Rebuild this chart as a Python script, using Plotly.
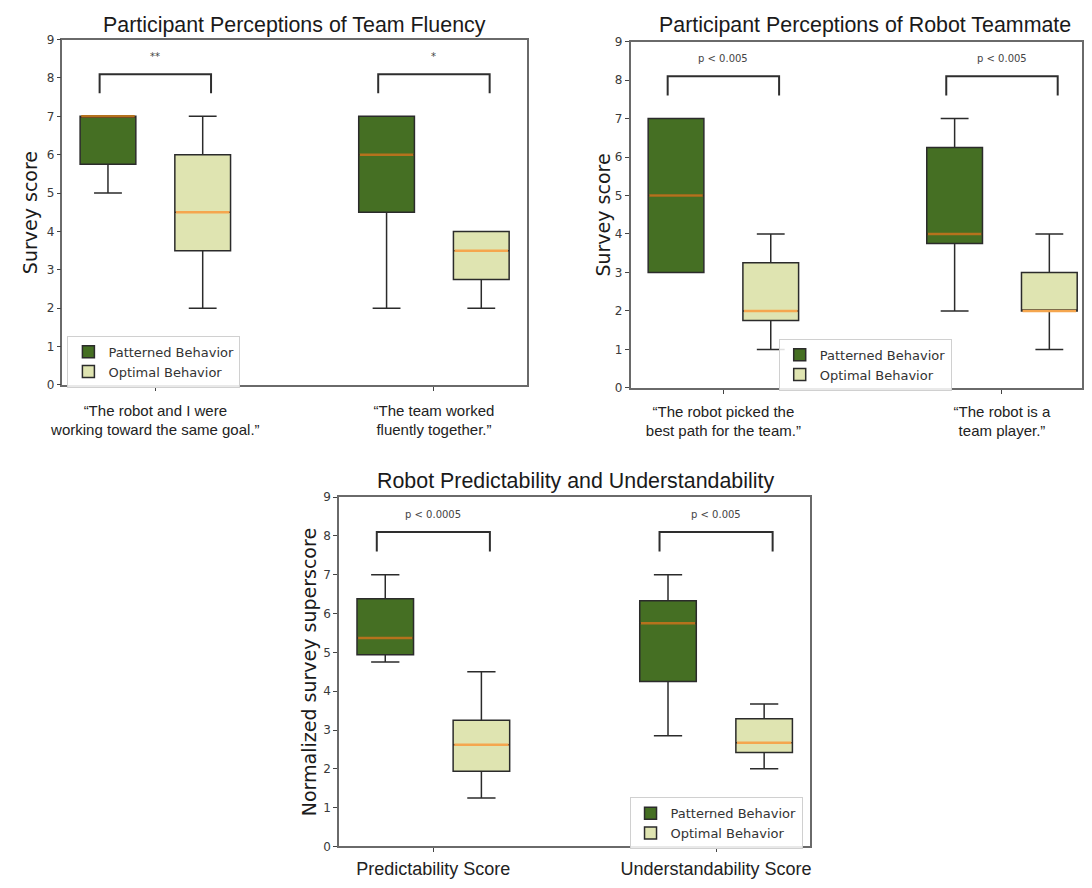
import plotly.graph_objects as go

# ---------------- data ----------------
# Panel 1: Participant Perceptions of Team Fluency
fluency_labels = ["“The robot and I were<br>working toward the same goal.”",
                  "“The team worked<br>fluently together.”"]
fluency_pat_low = [5.0, 2.0]
fluency_pat_q1 = [5.75, 4.5]
fluency_pat_median = [7.0, 6.0]
fluency_pat_q3 = [7.0, 7.0]
fluency_pat_high = [7.0, 7.0]
fluency_opt_low = [2.0, 2.0]
fluency_opt_q1 = [3.5, 2.75]
fluency_opt_median = [4.5, 3.5]
fluency_opt_q3 = [6.0, 4.0]
fluency_opt_high = [7.0, 4.0]
fluency_sig = ["**", "*"]

# Panel 2: Participant Perceptions of Robot Teammate
teammate_labels = ["“The robot picked the<br>best path for the team.”",
                   "“The robot is a<br>team player.”"]
teammate_pat_low = [3.0, 2.0]
teammate_pat_q1 = [3.0, 3.75]
teammate_pat_median = [5.0, 4.0]
teammate_pat_q3 = [7.0, 6.25]
teammate_pat_high = [7.0, 7.0]
teammate_opt_low = [1.0, 1.0]
teammate_opt_q1 = [1.75, 2.0]
teammate_opt_median = [2.0, 2.0]
teammate_opt_q3 = [3.25, 3.0]
teammate_opt_high = [4.0, 4.0]
teammate_sig = ["p < 0.005", "p < 0.005"]

# Panel 3: Robot Predictability and Understandability
score_labels = ["Predictability Score", "Understandability Score"]
score_pat_low = [4.75, 2.85]
score_pat_q1 = [4.94, 4.25]
score_pat_median = [5.37, 5.75]
score_pat_q3 = [6.38, 6.33]
score_pat_high = [7.0, 7.0]
score_opt_low = [1.25, 2.0]
score_opt_q1 = [1.94, 2.42]
score_opt_median = [2.62, 2.67]
score_opt_q3 = [3.25, 3.29]
score_opt_high = [4.5, 3.67]
score_sig = ["p < 0.0005", "p < 0.005"]

y_ticks = [0, 1, 2, 3, 4, 5, 6, 7, 8, 9]
series_names = ["Patterned Behavior", "Optimal Behavior"]

# ---------------- style ----------------
PAGE_OFF = 8                      # default body margin of the page
W, H = 1092 - 2 * PAGE_OFF, 888 - 2 * PAGE_OFF
GREEN = "#456f23"
LIGHT = "#dfe4b1"
EDGE = "#2b2b2b"
MED_COLORS = ["#b5721d", "#f5a64e"]
FILLS = [GREEN, LIGHT]
OFFSET = 0.17
BOX_W = 0.2
BR_HALF = 0.2
BR_LOW, BR_TOP, SIG_Y = 7.6, 8.1, 8.55
SPINE = "#6a6a6a"
ARIAL = "Liberation Sans, Arial, sans-serif"
DEJAVU = "DejaVu Sans, sans-serif"


def fx(px):
    return min(1.0, max(0.0, (px - PAGE_OFF) / W))


def fy(py):
    return min(1.0, max(0.0, 1 - (py - PAGE_OFF) / H))


panels = [
    dict(s="", title="Participant Perceptions of Team Fluency", ylabel="Survey score",
         labels=fluency_labels,
         stats=[(fluency_pat_low, fluency_pat_q1, fluency_pat_median, fluency_pat_q3, fluency_pat_high),
                (fluency_opt_low, fluency_opt_q1, fluency_opt_median, fluency_opt_q3, fluency_opt_high)],
         sig=fluency_sig,
         px=(52, 522), py=(33, 384), title_y=18, ylab_x=19, title_x=287,
         tickfont=dict(family=ARIAL, size=15, color="#222"), standoff=7,
         legend=dict(x=57, y=334)),
    dict(s="2", title="Participant Perceptions of Robot Teammate", ylabel="Survey score",
         labels=teammate_labels,
         stats=[(teammate_pat_low, teammate_pat_q1, teammate_pat_median, teammate_pat_q3, teammate_pat_high),
                (teammate_opt_low, teammate_opt_q1, teammate_opt_median, teammate_opt_q3, teammate_opt_high)],
         sig=teammate_sig,
         px=(627, 1097), py=(35, 387), title_y=18, ylab_x=599, title_x=864,
         tickfont=dict(family=ARIAL, size=15, color="#222"), standoff=5,
         legend=dict(x=777, y=337)),
    dict(s="3", title="Robot Predictability and Understandability", ylabel="Normalized survey superscore",
         labels=score_labels,
         stats=[(score_pat_low, score_pat_q1, score_pat_median, score_pat_q3, score_pat_high),
                (score_opt_low, score_opt_q1, score_opt_median, score_opt_q3, score_opt_high)],
         sig=score_sig,
         px=(332, 809), py=(498, 853), title_y=482, ylab_x=301, title_x=571,
         tickfont=dict(family=ARIAL, size=18, color="#222"), standoff=1,
         legend=dict(x=626, y=803)),
]

fig = go.Figure()
annotations = []
layout = dict(width=W, height=H, margin=dict(l=0, r=0, t=0, b=0),
              paper_bgcolor="white", plot_bgcolor="white", boxmode="overlay")

for p in panels:
    s = p["s"]
    xa, ya = "x" + s, "y" + s
    leg = "legend" + s
    pos = list(range(len(p["labels"])))
    for k, (low, q1, med, q3, high) in enumerate(p["stats"]):
        sign = -1 if k == 0 else 1
        xs = [i + sign * OFFSET for i in pos]
        fig.add_trace(go.Box(
            x=xs, lowerfence=low, q1=q1, median=med, q3=q3, upperfence=high,
            width=BOX_W, whiskerwidth=0.5, boxpoints=False,
            fillcolor=FILLS[k], line=dict(color=EDGE, width=1.5),
            name=series_names[k], legend=leg, xaxis=xa, yaxis=ya,
            hoverinfo="skip"))
        mx, my = [], []
        for xv, m in zip(xs, med):
            mx += [xv - BOX_W / 2 + 0.004, xv + BOX_W / 2 - 0.004, None]
            my += [m, m, None]
        fig.add_trace(go.Scatter(x=mx, y=my, mode="lines",
                                 line=dict(color=MED_COLORS[k], width=2.5),
                                 showlegend=False, xaxis=xa, yaxis=ya, hoverinfo="skip"))
    bx, by = [], []
    for i in pos:
        bx += [i - BR_HALF, i - BR_HALF, i + BR_HALF, i + BR_HALF, None]
        by += [BR_LOW, BR_TOP, BR_TOP, BR_LOW, None]
    fig.add_trace(go.Scatter(x=bx, y=by, mode="lines", line=dict(color="#2e2e2e", width=2),
                             showlegend=False, xaxis=xa, yaxis=ya, hoverinfo="skip"))
    for i, t in zip(pos, p["sig"]):
        annotations.append(dict(x=i, y=SIG_Y, xref=xa, yref=ya, text=t, showarrow=False,
                                font=dict(family=DEJAVU, size=10, color="#444")))

    x0, x1 = p["px"]
    y0, y1 = p["py"]
    unit = (x1 - x0) / (5 / 3)                 # pixels per category step
    xr0 = -1 / 3
    xr1 = xr0 + (min(x1, 1092 - PAGE_OFF) - x0) / unit
    layout["xaxis" + s] = dict(
        domain=[fx(x0), fx(x1)], range=[xr0, xr1], anchor=ya,
        tickmode="array", tickvals=pos, ticktext=p["labels"],
        ticks="outside", ticklen=4, tickcolor="#444", tickfont=p["tickfont"],
        ticklabelstandoff=p["standoff"],
        showline=True, linecolor=SPINE, linewidth=1.5, mirror=True,
        showgrid=False, zeroline=False, fixedrange=True)
    layout["yaxis" + s] = dict(
        domain=[fy(y1), fy(y0)], range=[0, 9], anchor=xa,
        tickmode="array", tickvals=y_ticks,
        ticks="outside", ticklen=4, tickcolor="#444",
        tickfont=dict(family=DEJAVU, size=12, color="#3a3a3a"),
        showline=True, linecolor=SPINE, linewidth=1.5, mirror=True,
        showgrid=False, zeroline=False, fixedrange=True)
    annotations.append(dict(x=fx(p["title_x"]), y=fy(p["title_y"]), xref="paper", yref="paper",
                            text=p["title"], showarrow=False, xanchor="center", yanchor="middle",
                            font=dict(family=ARIAL, size=21.4, color="#1a1a1a")))
    annotations.append(dict(x=fx(p["ylab_x"]), y=fy((y0 + y1) / 2), xref="paper", yref="paper",
                            text=p["ylabel"], showarrow=False, textangle=-90,
                            xanchor="center", yanchor="middle",
                            font=dict(family=DEJAVU, size=19, color="#1a1a1a")))
    layout[leg] = dict(x=fx(p["legend"]["x"]), y=fy(p["legend"]["y"]),
                       xanchor="left", yanchor="top",
                       bgcolor="rgba(255,255,255,0.85)", bordercolor="#d0d0d0", borderwidth=1,
                       font=dict(family=DEJAVU, size=13, color="#333"),
                       itemclick=False, itemdoubleclick=False)

layout["annotations"] = annotations
layout["showlegend"] = True
fig.update_layout(**layout)

fig.write_html("out.html", config={"displayModeBar": False})
